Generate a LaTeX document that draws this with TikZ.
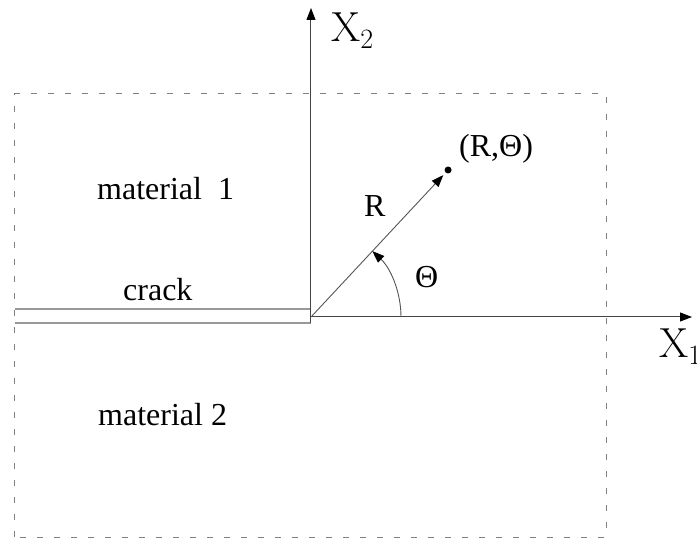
\documentclass[tikz,border=0pt]{standalone}
\usepackage[no-math]{fontspec}
\setmainfont{Liberation Serif}
\usetikzlibrary{arrows.meta,positioning}
\definecolor{axisgray}{HTML}{444444}
\definecolor{raygray}{HTML}{555555}
\definecolor{crackgray}{HTML}{999999}
\definecolor{framegray}{HTML}{808080}
\newcommand{\axsub}[1]{\raisebox{-7pt}{\fontsize{28}{30}\selectfont #1}}

\begin{document}
\begin{tikzpicture}[
  x=1pt, y=1pt,
  >={Triangle[length=12pt, width=9pt, color=black]},
  axis/.style={->, line width=1pt, color=axisgray},
  ray/.style={->, line width=0.9pt, color=raygray},
  crackface/.style={line width=1.2pt, color=crackgray},
  dashframe/.style={draw=framegray, line width=1pt, dash pattern=on 6pt off 11pt},
  lbl/.style={font=\fontsize{32}{36}\selectfont, inner sep=0pt, anchor=base west},
  axlbl/.style={font=\fontfamily{lmr}\fontsize{42}{48}\selectfont, inner sep=0pt, anchor=base west},
]
\useasboundingbox (-311,-224) rectangle (386,317);

\draw[dashframe] (-296,-220) rectangle (295,223);

\coordinate (O) at (0,0);
\coordinate (x2tip) at (0,309);
\coordinate (x1tip) at (381,0);
\coordinate (upface) at (0,8);
\coordinate (lowface) at (0,-6);
\coordinate (upleft) at (-296,8);
\coordinate (lowleft) at (-296,-6);
\coordinate (raytip) at (47:194);
\coordinate (P) at (47:201);
\coordinate (arcstart) at (90,0);

% crack faces
\draw[crackface] (upleft) -- (upface);
\draw[crackface] (lowleft) -- (lowface);

% axes
\draw[axis] (lowface) -- (x2tip);
\draw[axis] (O) -- (x1tip);

% polar point
\draw[ray] (O) -- (raytip);
\fill (P) circle (3.5pt);
\draw[ray] (arcstart) arc[start angle=0, end angle=47, radius=90];

\node[axlbl] (x2lbl) at (20,275) {X\axsub{2}};
\node[axlbl] (x1lbl) at (348,-41) {X\axsub{1}};
\node[lbl] (thetalbl) at (104,29) {Θ};
\node[lbl] (rlbl) at (53,100) {R};
\node[lbl] (ptlbl) at (148,160) {(R,Θ)};
\node[lbl] (mat1) at (-214,117) {material\ \ 1};
\node[lbl] (crk) at (-188,16) {crack};
\node[lbl] (mat2) at (-213,-108) {material 2};

\end{tikzpicture}
\end{document}
